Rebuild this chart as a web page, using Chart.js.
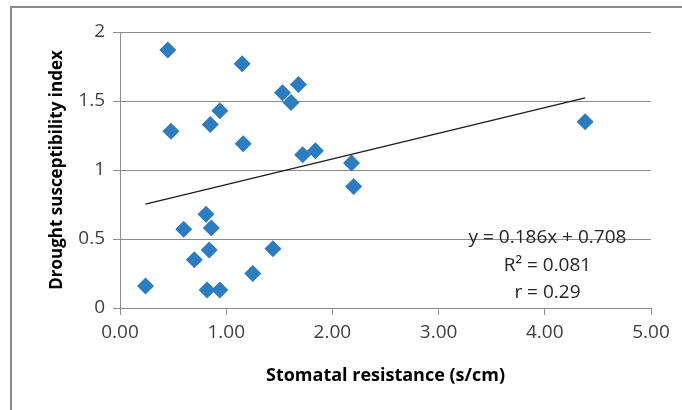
<!DOCTYPE html>
<html>
<head>
<meta charset="utf-8">
<script src="https://cdn.jsdelivr.net/npm/chart.js@4.4.0/dist/chart.umd.min.js"></script>
<style>
  body { margin:0; background:#fff; }
  #wrap { position:relative; width:682px; height:410px; overflow:hidden; }
  #frame { position:absolute; left:10px; top:6px; width:700px; height:430px; border:2px solid #8a8a8a; }
  canvas { position:absolute; left:0; top:0; }
</style>
</head>
<body>
<div id="wrap">
  <div id="frame"></div>
  <canvas id="scatterChart" width="682" height="410"></canvas>
</div>
<script>
// stomatal resistance (s/cm) vs drought susceptibility index
const resistance = [0.24, 0.45, 0.48, 0.60, 0.70, 0.81, 0.86, 0.84, 0.82, 0.94, 0.85, 0.94, 1.15, 1.16, 1.25, 1.44, 1.53, 1.61, 1.68, 1.72, 1.84, 2.18, 2.20, 4.38];
const dsi        = [0.16, 1.87, 1.28, 0.57, 0.35, 0.68, 0.58, 0.42, 0.13, 0.13, 1.33, 1.43, 1.77, 1.19, 0.25, 0.43, 1.56, 1.49, 1.62, 1.11, 1.14, 1.05, 0.88, 1.35];
const xTicks = [0, 1, 2, 3, 4, 5];
const yTicks = [0, 0.5, 1, 1.5, 2];
const slope = 0.186, intercept = 0.708;
const trendX = [0.24, 4.38];
const statLines = ['y = 0.186x + 0.708', 'R\u00b2 = 0.081', 'r = 0.29'];

const FONT = "'Open Sans', 'Noto Sans', sans-serif";

const points = resistance.map((x, i) => ({ x: x, y: dsi[i] }));
const trend = trendX.map(x => ({ x: x, y: slope * x + intercept }));

const statsText = {
  id: 'statsText',
  afterDatasetsDraw(chart) {
    const { ctx, chartArea } = chart;
    const cx = chartArea.left + (chartArea.right - chartArea.left) * 0.805;
    ctx.save();
    ctx.font = '19px ' + FONT;
    ctx.fillStyle = '#262626';
    ctx.textAlign = 'center';
    ctx.textBaseline = 'middle';
    statLines.forEach((t, i) => ctx.fillText(t, cx, chartArea.top + 206 + i * 27.5));
    ctx.restore();
  }
};

new Chart(document.getElementById('scatterChart'), {
  type: 'scatter',
  data: {
    datasets: [
      { label: 'DSI', data: points, pointStyle: 'rectRot', pointRadius: 8.5, pointHoverRadius: 8.5,
        backgroundColor: '#2b7cc1', borderColor: '#2b7cc1', borderWidth: 0 },
      { label: 'Linear', type: 'line', data: trend, borderColor: '#1a1a1a', borderWidth: 1.2,
        pointRadius: 0, fill: false }
    ]
  },
  options: {
    responsive: false,
    animation: false,
    layout: { padding: { left: 0, right: 31, top: 32, bottom: 0 } },
    plugins: { legend: { display: false }, tooltip: { enabled: false } },
    scales: {
      x: {
        type: 'linear', min: 0, max: 5,
        afterBuildTicks: s => { s.ticks = xTicks.map(v => ({ value: v })); },
        afterFit: s => { s.height = 102; },
        grid: { drawOnChartArea: false, drawTicks: true, tickLength: 7, color: '#8c8c8c' },
        border: { color: '#8c8c8c' },
        ticks: { color: '#404040', font: { family: FONT, size: 19 }, padding: 6,
                 callback: v => v.toFixed(2) },
        title: { display: true, text: 'Stomatal resistance (s/cm)', color: '#000',
                 font: { family: FONT, size: 18, weight: 'bold' }, padding: { top: 0, bottom: 23 } }
      },
      y: {
        type: 'linear', min: 0, max: 2,
        afterBuildTicks: s => { s.ticks = yTicks.map(v => ({ value: v })); },
        afterFit: s => { s.width = 120; },
        grid: { drawTicks: true, tickLength: 7, color: '#8c8c8c' },
        border: { color: '#8c8c8c' },
        ticks: { color: '#404040', font: { family: FONT, size: 19 }, padding: 8,
                 callback: v => String(v) },
        title: { display: true, text: 'Drought susceptibility index', color: '#000',
                 font: { family: FONT, size: 17, weight: 'bold' }, padding: { top: 47, bottom: 0 } }
      }
    }
  },
  plugins: [statsText]
});
</script>
</body>
</html>
